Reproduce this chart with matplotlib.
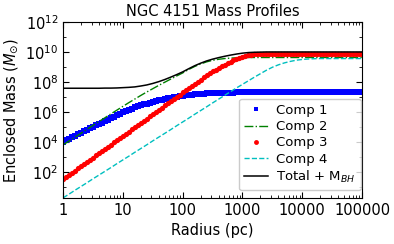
import numpy as np
import matplotlib
matplotlib.use("Agg")
import matplotlib.pyplot as plt

# radius grids (pc): fine grid for the marker curves, coarser for the lines
r_fine = np.logspace(0, 5, 101)
r_line = np.logspace(0, 5, 51)

# log10 enclosed mass
comp1 = [4.00, 4.10, 4.20, 4.30, 4.40, 4.50, 4.60, 4.70, 4.80, 4.90,
         5.00, 5.10, 5.20, 5.29, 5.39, 5.48, 5.58, 5.68, 5.78, 5.88,
         5.97, 6.06, 6.14, 6.22, 6.30, 6.37, 6.43, 6.50, 6.56, 6.61,
         6.67, 6.72, 6.77, 6.82, 6.86, 6.91, 6.95, 6.98, 7.02, 7.05,
         7.08, 7.10, 7.13, 7.15, 7.17, 7.19, 7.20, 7.22, 7.23, 7.24,
         7.25, 7.26, 7.27, 7.27, 7.28, 7.28, 7.29, 7.29, 7.30, 7.30,
         7.30] + [7.31] * 40

comp3 = [1.50, 1.65, 1.79, 1.94, 2.08, 2.23, 2.37, 2.52, 2.66, 2.81,
         2.95, 3.10, 3.24, 3.39, 3.53, 3.68, 3.82, 3.97, 4.11, 4.26,
         4.40, 4.55, 4.69, 4.84, 4.98, 5.13, 5.27, 5.42, 5.56, 5.71,
         5.85, 6.00, 6.14, 6.29, 6.43, 6.58, 6.72, 6.87, 7.01, 7.16,
         7.30, 7.44, 7.59, 7.73, 7.88, 8.02, 8.16, 8.30, 8.44, 8.57,
         8.70, 8.82, 8.94, 9.05, 9.16, 9.26, 9.35, 9.44, 9.52, 9.59,
         9.66, 9.72, 9.78, 9.82, 9.85, 9.86, 9.87, 9.87, 9.88] + [9.88] * 32

comp2 = [3.80, 4.06, 4.32, 4.58, 4.84, 5.10, 5.36, 5.61, 5.87, 6.12,
         6.37, 6.62, 6.86, 7.10, 7.33, 7.55, 7.77, 7.98, 8.19, 8.40,
         8.60, 8.83, 9.03, 9.20, 9.34, 9.44, 9.51, 9.56, 9.59, 9.61,
         9.62] + [9.63] * 20

comp4 = [0.27, 0.52, 0.78, 1.03, 1.28, 1.54, 1.79, 2.04, 2.29, 2.55,
         2.80, 3.05, 3.31, 3.56, 3.81, 4.07, 4.32, 4.57, 4.82, 5.08,
         5.33, 5.58, 5.84, 6.09, 6.34, 6.60, 6.85, 7.10, 7.35, 7.60,
         7.84, 8.08, 8.32, 8.55, 8.78, 8.98, 9.14, 9.27, 9.37, 9.45,
         9.50, 9.53, 9.55, 9.56] + [9.56] * 7

total = [7.58, 7.58, 7.58, 7.58, 7.58, 7.58, 7.58, 7.59, 7.59, 7.60,
         7.62, 7.64, 7.67, 7.73, 7.80, 7.90, 8.02, 8.16, 8.32, 8.49,
         8.67, 8.88, 9.08, 9.25, 9.40, 9.52, 9.62, 9.71, 9.79, 9.86,
         9.92, 9.96, 9.98, 9.99] + [10.00] * 17

xticks = [1, 10, 100, 1000, 10000, 100000]
xticklabels = ["1", "10", "100", "1000", "10000", "100000"]

fig = plt.figure(figsize=(3.94, 2.44), dpi=100)
ax = fig.add_axes([0.16, 0.189, 0.759, 0.721])

ax.plot(r_fine, 10 ** np.array(comp1), "bs", ms=4.6, mew=0, label="Comp 1")
ax.plot(r_line, 10 ** np.array(comp2), "g-.", lw=1, label="Comp 2")
ax.plot(r_fine, 10 ** np.array(comp3), "ro", ms=3.8, mew=0, label="Comp 3")
ax.plot(r_line, 10 ** np.array(comp4), "c--", lw=1, label="Comp 4")
ax.plot(r_line, 10 ** np.array(total), "k-", lw=1.1, label="Total + M$_{BH}$")

ax.set_xscale("log")
ax.set_yscale("log")
ax.set_xlim(1, 1e5)
ax.set_ylim(10 ** 0.27, 1e12)
ax.set_xticks(xticks)
ax.set_xticklabels(xticklabels)
ax.set_yticks([1e2, 1e4, 1e6, 1e8, 1e10, 1e12])
ax.yaxis.set_minor_locator(matplotlib.ticker.LogLocator(base=10, numticks=20))
ax.yaxis.set_minor_formatter(matplotlib.ticker.NullFormatter())
ax.tick_params(which="both", direction="in", top=True, right=True, labelsize=10.5)
ax.tick_params(which="major", length=4)
ax.tick_params(which="minor", length=2)

ax.set_title("NGC 4151 Mass Profiles", fontsize=10.5, pad=4)
ax.set_xlabel("Radius (pc)", fontsize=10.5)
ax.set_ylabel(r"Enclosed Mass ($M_{\odot}$)", fontsize=10.5)

leg = ax.legend(loc="lower right", bbox_to_anchor=(1.0, 0.035), numpoints=1,
                fontsize=9.5, borderaxespad=0.1, handlelength=1.8,
                labelspacing=0.25, handletextpad=0.6,
                fancybox=True, edgecolor="0.75")
leg.legend_handles[0].set_markersize(3.5)
leg.legend_handles[2].set_markersize(3.5)

fig.savefig("out.png", dpi=100)
